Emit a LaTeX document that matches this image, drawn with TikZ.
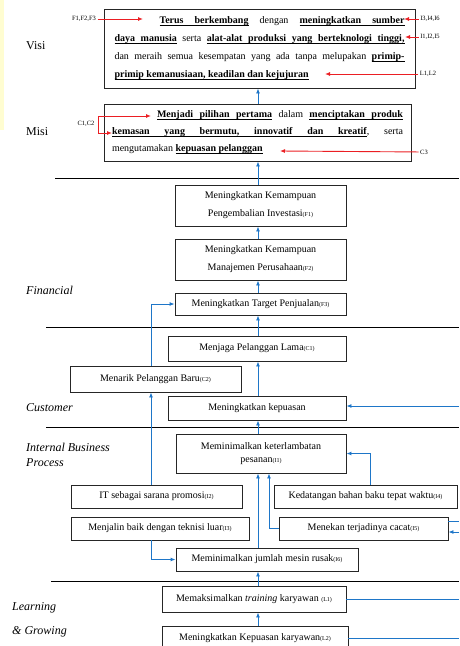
\documentclass[tikz,border=0pt]{standalone}
\usepackage{fontspec}
\setmainfont{Liberation Serif}
\usetikzlibrary{arrows.meta}
\definecolor{biru}{RGB}{30,118,200}
\definecolor{merah}{RGB}{235,30,35}
\newcommand{\kd}[1]{{\fontsize{6}{6}\selectfont(#1)}}
\newcommand{\gw}[1]{\setbox0\hbox{\textbf{#1}}\rlap{\rule[-1.8pt]{\wd0}{0.5pt}}\box0}
\newcommand{\gs}{\leaders\hrule height -1.3pt depth 1.8pt\hskip 2.5pt plus 1fil\relax}
\newcommand{\ns}{\hskip 2.5pt plus 1fil\relax}
\newcommand{\baris}[1]{\hbox to\hsize{#1}}

\begin{document}
\begin{tikzpicture}[x=1pt, y=-1pt,
    kotak/.style={draw=black!85, line width=0.9pt, inner sep=2pt, font=\fontsize{10}{12}\selectfont},
    panah/.style={draw=biru, line width=0.9pt, -{Latex[length=5pt,width=4pt]}},
    garisbiru/.style={draw=biru, line width=0.9pt},
    panahmerah/.style={draw=merah, line width=0.9pt, -{Latex[length=5pt,width=4pt]}},
    kecil/.style={inner sep=1.5pt, font=\fontsize{6.5}{7}\selectfont},
    judul/.style={anchor=west, inner sep=0pt, font=\fontsize{12}{15}\selectfont},
    miring/.style={judul, font=\fontsize{12}{15}\selectfont\itshape}]
  \useasboundingbox (0,0) rectangle (459,646);
  \fill[yellow!18] (0,0) rectangle (4,130);
  \coordinate (sumbu) at (258,0);
  \coordinate (kiri) at (151,0);
  \coordinate (kanan) at (459,0);

  \node[judul] (tvisi) at (26,46) {Visi};
  \node[judul] (tmisi) at (26,132) {Misi};
  \node[miring] (tfin) at (26,290) {Financial};
  \node[miring] (tcus) at (26,408) {Customer};
  \node[miring, align=left] (tibp) at (26,455) {Internal Business\\Process};
  \node[miring] (tlearn) at (12,608) {Learning};
  \node[miring] (tgrow) at (12,632) {\& Growing};

  \draw[line width=0.9pt] (55,178) -- (459,178);
  \draw[line width=0.9pt] (46,327) -- (459,327);
  \draw[line width=0.9pt] (46,427) -- (459,427);
  \draw[line width=0.9pt] (51,581) -- (459,581);

  \node[kotak, inner xsep=10.5pt, minimum width=311pt, minimum height=79pt] (visi) at (259.5,48.5)
    {\vbox{\hsize=290pt \baselineskip=18pt
     \baris{\hskip45pt\gw{Terus}\gs\gw{berkembang}\ns dengan\ns\gw{meningkatkan}\gs\gw{sumber}}
     \baris{\gw{daya}\gs\gw{manusia}\ns serta\ns\gw{alat-alat}\gs\gw{produksi}\gs\gw{yang}\gs\gw{berteknologi}\gs\gw{tinggi,}}
     \baris{dan\ns meraih\ns semua\ns kesempatan\ns yang\ns ada\ns tanpa\ns melupakan\ns\gw{primip-}}
     \hbox{\gw{primip}\gs\gw{kemanusiaan,}\gs\gw{keadilan}\gs\gw{dan}\gs\gw{kejujuran}}}};
  \node[kotak, inner xsep=8pt, minimum width=307pt, minimum height=57pt] (misi) at (257.5,132.5)
    {\vbox{\hsize=291pt \baselineskip=17pt
     \baris{\hskip45pt\gw{Menjadi}\gs\gw{pilihan}\gs\gw{pertama}\ns dalam\ns\gw{menciptakan}\gs\gw{produk}}
     \baris{\gw{kemasan}\gs\gw{yang}\gs\gw{bermutu,}\gs\gw{innovatif}\gs\gw{dan}\gs\gw{kreatif},\ns serta}
     \hbox{mengutamakan\ns\gw{kepuasan}\gs\gw{pelanggan}}}};

  \node[kotak, minimum width=171pt, minimum height=41pt, align=center,
        font=\fontsize{10}{18}\selectfont] (F1) at (260.5,205.5)
    {Meningkatkan Kemampuan\\Pengembalian Investasi\kd{F1}};
  \node[kotak, minimum width=171pt, minimum height=41pt, align=center,
        font=\fontsize{10}{18}\selectfont] (F2) at (260.5,259.5)
    {Meningkatkan Kemampuan\\Manajemen Perusahaan\kd{F2}};
  \node[kotak, minimum width=171pt, minimum height=22pt] (F3) at (260.5,304)
    {Meningkatkan Target Penjualan\kd{F3}};
  \node[kotak, minimum width=178pt, minimum height=25pt] (C1) at (257,348.5)
    {Menjaga Pelanggan Lama\kd{C1}};
  \node[kotak, minimum width=171pt, minimum height=26pt] (C2) at (155.5,379)
    {Menarik Pelanggan Baru\kd{C2}};
  \node[kotak, minimum width=178pt, minimum height=24pt] (C3) at (257,408)
    {Meningkatkan kepuasan};
  \node[kotak, minimum width=170pt, minimum height=39pt, align=center,
        font=\fontsize{10}{13}\selectfont] (I1) at (261,453.5)
    {Meminimalkan keterlambatan\\pesanan\kd{I1}};
  \node[kotak, minimum width=171pt, minimum height=23pt] (I2) at (156.5,496.5)
    {IT sebagai sarana promosi\kd{I2}};
  \node[kotak, minimum width=183pt, minimum height=23pt] (I4) at (365.5,496.5)
    {Kedatangan bahan baku tepat waktu\kd{I4}};
  \node[kotak, minimum width=178pt, minimum height=23pt] (I3) at (160,528.5)
    {Menjalin baik dengan teknisi luar\kd{I3}};
  \node[kotak, minimum width=169pt, minimum height=23pt] (I5) at (363.5,528.5)
    {Menekan terjadinya cacat\kd{I5}};
  \node[kotak, minimum width=182pt, minimum height=23pt] (I6) at (267,559.5)
    {Meminimalkan jumlah mesin rusak\kd{I6}};
  \node[kotak, minimum width=184pt, minimum height=26pt] (L1) at (254,599)
    {Memaksimalkan \textit{training} karyawan \kd{L1}};
  \node[kotak, minimum width=186pt, minimum height=24pt] (L2) at (255,638)
    {Meningkatkan Kepuasan karyawan\kd{L2}};

  \draw[panah] (misi.north -| sumbu) -- (visi.south -| sumbu);
  \draw[panah] (F1.north -| sumbu) -- (misi.south -| sumbu);
  \draw[panah] (F2.north -| sumbu) -- (F1.south -| sumbu);
  \draw[panah] (F3.north -| sumbu) -- (F2.south -| sumbu);
  \draw[panah] (C1.north -| sumbu) -- (F3.south -| sumbu);
  \draw[panah] (C3.north -| sumbu) -- (C1.south -| sumbu);
  \draw[panah] (I1.north -| sumbu) -- (C3.south -| sumbu);
  \draw[panah] (I6.north -| sumbu) -- (I1.south -| sumbu);
  \draw[panah] (L1.north -| sumbu) -- (I6.south -| sumbu);
  \draw[panah] (L2.north -| sumbu) -- (L1.south -| sumbu);
  \draw[panah] (C2.north -| kiri) |- (F3.west);
  \draw[panah] (I2.north -| kiri) -- (C2.south -| kiri);
  \draw[panah] (I3.south -| kiri) |- (I6.west);
  \draw[panah] ([xshift=4.5pt]I4.north) |- (I1.east);
  \draw[panah] (I5.west) -| ([xshift=8pt]I1.south);

  \coordinate (kC3) at (459,406);
  \coordinate (kI5a) at (459,521);
  \coordinate (kI5b) at (459,532);
  \draw[panah] (kC3) -- (kC3 -| C3.east);
  \draw[garisbiru] (kI5a -| I5.east) -- (kI5a);
  \draw[panah] (kI5b) -- (kI5b -| I5.east);
  \draw[garisbiru] (L1.east) -- (L1.east -| kanan);
  \draw[garisbiru] (L2.east) -- (L2.east -| kanan);

  \node[kecil] (lF) at (84,19) {F1,F2,F3};
  \node[kecil] (lI1) at (430,19) {I3,I4,I6};
  \node[kecil] (lI2) at (430,37) {I1,I2,I5};
  \node[kecil] (lL) at (428,74) {L1,L2};
  \node[kecil] (lC) at (86,124) {C1,C2};
  \node[kecil] (lC3) at (424,152) {C3};
  \coordinate (tF) at (143,19);
  \coordinate (tI1) at (404,19);
  \coordinate (tI2) at (405,37);
  \coordinate (tL) at (325,74);
  \coordinate (sudut) at (98,124);
  \coordinate (tC1) at (151,116);
  \coordinate (tC2) at (112,133);
  \coordinate (tC3) at (280,151);
  \draw[panahmerah] (lF) -- (tF);
  \draw[panahmerah] (lI1) -- (tI1);
  \draw[panahmerah] (lI2) -- (tI2);
  \draw[panahmerah] (lL) -- (tL);
  \draw[panahmerah] (sudut) |- (tC1);
  \draw[panahmerah] (sudut) |- (tC2);
  \draw[panahmerah] (lC3) -- (tC3);
\end{tikzpicture}
\end{document}
